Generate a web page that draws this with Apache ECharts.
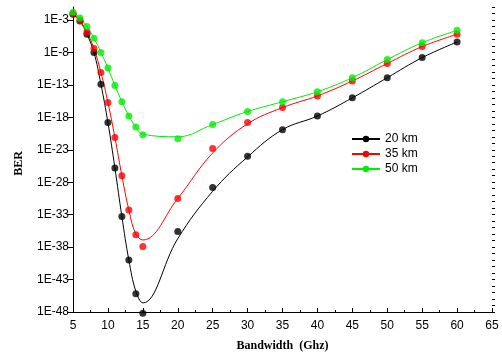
<!DOCTYPE html>
<html>
<head>
<meta charset="utf-8">
<script src="https://cdn.jsdelivr.net/npm/echarts@6/dist/echarts.min.js"></script>
<style>
  html, body { margin: 0; padding: 0; background: #fff; }
  #chart { width: 502px; height: 362px; }
</style>
</head>
<body>
<div id="chart"></div>
<script>
// bandwidth (GHz)
const bandwidth = [5, 6, 7, 8, 9, 10, 11, 12, 13, 14, 15, 20, 25, 30, 35, 40, 45, 50, 55, 60];

// measured BER points, as log10(BER)
const ber20 = [-2.1, -3.15, -5.2, -8.0, -12.9, -18.8, -25.8, -33.3, -40.0, -45.2, -48.2, -35.6, -28.8, -24.0, -19.9, -17.8, -15.0, -11.9, -8.8, -6.4];
const ber35 = [-2.0, -3.1, -4.9, -7.4, -11.1, -15.7, -21.1, -27.0, -32.3, -36.1, -37.9, -30.5, -22.8, -18.8, -16.5, -14.7, -12.4, -9.7, -7.1, -5.2];
const ber50 = [-1.8, -2.7, -4.0, -5.8, -8.0, -10.4, -13.1, -15.6, -17.8, -19.5, -20.7, -21.3, -19.1, -17.1, -15.6, -14.05, -11.9, -9.1, -6.5, -4.6];

// fitted curves, as log10(BER)
const fit20 = [-2.1, -3.15, -5.2, -8.0, -12.9, -18.8, -25.8, -33.3, -40.0, -44.8, -46.6, -36.7, -29.4, -24.1, -19.9, -17.8, -15.0, -11.9, -8.8, -6.4];
const fit35 = [-2.0, -3.1, -4.9, -7.4, -11.1, -15.7, -21.1, -27.0, -32.3, -36.0, -36.9, -30.5, -23.5, -19.0, -16.5, -14.7, -12.4, -9.7, -7.1, -5.2];
const fit50 = [-1.8, -2.7, -4.0, -5.8, -8.0, -10.4, -13.1, -15.6, -17.8, -19.5, -20.6, -21.0, -19.1, -17.1, -15.6, -14.05, -11.9, -9.1, -6.5, -4.6];

const seriesNames = ['20 km', '35 km', '50 km'];
const colors = ['#000000', '#ff0000', '#00ee00'];
const yLabelTicks = [-48, -43, -38, -33, -28, -23, -18, -13, -8, -3];

const pairs = (ys) => bandwidth.map((x, i) => [x, ys[i]]);

const chart = echarts.init(document.getElementById('chart'));

const fits = [fit20, fit35, fit50];
const points = [ber20, ber35, ber50];
const series = [];
seriesNames.forEach((name, i) => {
  series.push({
    name: name,
    type: 'line',
    smooth: 0.4,
    data: pairs(fits[i]),
    symbol: 'circle',
    symbolSize: 7,
    showSymbol: false,
    lineStyle: { width: 1, color: colors[i] },
    itemStyle: { color: colors[i] },
    z: 2
  });
});
seriesNames.forEach((name, i) => {
  series.push({
    name: name + ' pts',
    type: 'scatter',
    data: pairs(points[i]),
    symbolSize: 7,
    clip: false,
    itemStyle: { color: colors[i] },
    z: 3
  });
});

chart.setOption({
  animation: false,
  textStyle: { fontFamily: 'Liberation Sans, Arial, sans-serif' },
  grid: { left: 73, right: 10, top: 7, bottom: 50 },
  legend: {
    data: seriesNames,
    orient: 'vertical',
    left: 346,
    top: 128,
    itemWidth: 28,
    itemHeight: 8,
    itemGap: 3,
    textStyle: { fontSize: 12, color: '#000' }
  },
  xAxis: {
    type: 'value',
    min: 5,
    max: 65,
    interval: 5,
    name: 'Bandwidth  (Ghz)',
    nameLocation: 'middle',
    nameGap: 28,
    nameTextStyle: { fontFamily: 'Liberation Serif, Times New Roman, serif', fontWeight: 'bold', fontSize: 12, color: '#000' },
    axisLine: { lineStyle: { color: '#000', width: 1 } },
    axisTick: { inside: true, length: 4, lineStyle: { color: '#000' } },
    minorTick: { show: true, splitNumber: 2, length: 2, lineStyle: { color: '#000' } },
    axisLabel: { fontSize: 12, color: '#000', margin: 8 },
    splitLine: { show: false }
  },
  yAxis: [{
    type: 'value',
    min: -48,
    max: -1,
    interval: 5,
    name: 'BER',
    nameLocation: 'middle',
    nameGap: 48,
    nameTextStyle: { fontFamily: 'Liberation Serif, Times New Roman, serif', fontWeight: 'bold', fontSize: 12, color: '#000', padding: [0, 8, 0, 0] },
    axisLine: { show: true, lineStyle: { color: '#000', width: 1 } },
    axisTick: { show: true, length: 6, customValues: yLabelTicks, lineStyle: { color: '#000' } },
    axisLabel: {
      fontSize: 12, color: '#000', margin: 4,
      customValues: yLabelTicks,
      formatter: (v) => '1E' + v
    },
    splitLine: { show: false }
  }, {
    type: 'value',
    min: -48,
    max: -1,
    interval: 1,
    axisLine: { show: false },
    axisTick: { show: true, length: 3, lineStyle: { color: '#000' } },
    axisLabel: { show: false },
    splitLine: { show: false }
  }],
  series: series
});
</script>
</body>
</html>
